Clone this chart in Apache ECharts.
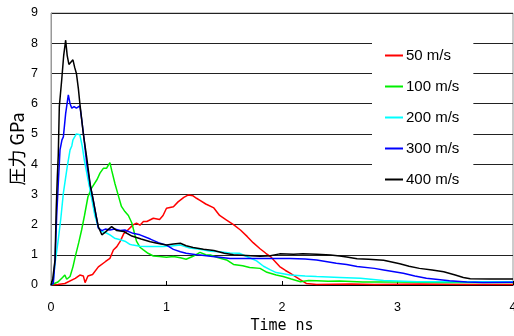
<!DOCTYPE html>
<html>
<head>
<meta charset="utf-8">
<script src="https://cdn.jsdelivr.net/npm/echarts@6/dist/echarts.min.js"></script>
<style>
  html, body { margin: 0; padding: 0; background: #fff; }
  #chart { width: 514px; height: 336px; }
</style>
</head>
<body>
<div id="chart"></div>
<script>
// 衝突速度ごとの圧力履歴 (Time ns, GPa)
const speeds = ["50 m/s", "100 m/s", "200 m/s", "300 m/s", "400 m/s"];
const colors = ["#ff0000", "#00ee00", "#00ffff", "#0000ff", "#000000"];

const p50 = [[0,0],[0.06,0.02],[0.12,0.05],[0.21,0.22],[0.25,0.33],[0.28,0.3],[0.295,0.08],[0.32,0.3],[0.36,0.35],[0.41,0.6],[0.47,0.77],[0.51,0.88],[0.54,1.16],[0.57,1.27],[0.6,1.45],[0.63,1.7],[0.655,1.78],[0.71,1.99],[0.74,2.05],[0.77,1.98],[0.8,2.1],[0.83,2.1],[0.886,2.21],[0.94,2.17],[0.97,2.3],[1.0,2.54],[1.06,2.59],[1.1,2.75],[1.15,2.9],[1.19,2.98],[1.23,2.95],[1.26,2.87],[1.29,2.8],[1.34,2.68],[1.41,2.55],[1.46,2.3],[1.52,2.15],[1.58,2.0],[1.64,1.82],[1.7,1.6],[1.75,1.4],[1.81,1.2],[1.86,1.05],[1.9,0.94],[1.94,0.78],[1.98,0.61],[2.03,0.48],[2.07,0.39],[2.12,0.27],[2.16,0.17],[2.21,0.05],[2.3,0.02],[2.6,0.03],[2.8,0.02],[3.2,0.03],[3.6,0.02],[4.0,0.02]];

const p100 = [[0,0],[0.06,0.1],[0.1,0.25],[0.12,0.33],[0.136,0.19],[0.165,0.28],[0.19,0.6],[0.21,0.94],[0.24,1.4],[0.265,1.82],[0.29,2.3],[0.32,2.92],[0.35,3.2],[0.366,3.26],[0.4,3.5],[0.424,3.7],[0.453,3.86],[0.48,3.86],[0.51,4.05],[0.525,3.8],[0.554,3.35],[0.58,3.0],[0.61,2.6],[0.64,2.43],[0.67,2.3],[0.7,2.05],[0.74,1.45],[0.77,1.25],[0.8,1.16],[0.84,1.05],[0.886,0.96],[0.94,0.94],[1.0,0.92],[1.06,0.94],[1.12,0.9],[1.17,0.85],[1.23,0.95],[1.29,1.08],[1.34,1.0],[1.38,0.99],[1.45,0.9],[1.52,0.83],[1.58,0.68],[1.66,0.64],[1.72,0.58],[1.81,0.55],[1.87,0.42],[1.95,0.33],[2.01,0.28],[2.08,0.2],[2.16,0.11],[2.23,0.15],[2.3,0.14],[2.4,0.12],[2.5,0.13],[2.7,0.1],[3.0,0.1],[3.4,0.08],[4.0,0.08]];

const p200 = [[0,0],[0.02,0.17],[0.035,0.72],[0.063,1.5],[0.085,2.2],[0.107,3.04],[0.14,3.9],[0.165,4.47],[0.18,4.6],[0.19,4.8],[0.22,5.0],[0.25,4.97],[0.27,4.6],[0.29,4.1],[0.32,3.5],[0.35,2.9],[0.38,2.3],[0.41,1.9],[0.44,1.77],[0.48,1.72],[0.51,1.66],[0.55,1.55],[0.6,1.5],[0.64,1.45],[0.68,1.35],[0.71,1.32],[0.77,1.28],[0.83,1.27],[0.9,1.27],[0.97,1.27],[1.04,1.29],[1.12,1.32],[1.2,1.22],[1.29,1.18],[1.38,1.12],[1.46,1.1],[1.55,1.06],[1.63,1.05],[1.72,0.9],[1.78,0.8],[1.84,0.62],[1.9,0.5],[1.95,0.41],[2.07,0.33],[2.2,0.3],[2.3,0.28],[2.5,0.25],[2.68,0.22],[2.88,0.15],[3.17,0.11],[3.5,0.11],[4.0,0.11]];

const p300 = [[0,0],[0.02,0.05],[0.035,0.83],[0.049,2.26],[0.065,3.5],[0.078,4.47],[0.095,4.8],[0.107,4.9],[0.127,5.68],[0.15,6.29],[0.165,6.0],[0.18,5.85],[0.2,5.9],[0.22,5.85],[0.25,5.93],[0.265,5.5],[0.28,5.03],[0.31,4.0],[0.34,3.3],[0.366,2.8],[0.39,2.3],[0.41,1.88],[0.44,1.8],[0.47,1.85],[0.51,1.82],[0.55,1.85],[0.6,1.8],[0.64,1.82],[0.71,1.71],[0.77,1.66],[0.86,1.52],[0.93,1.4],[1.0,1.32],[1.06,1.18],[1.12,1.1],[1.17,1.05],[1.26,1.0],[1.29,0.99],[1.38,0.95],[1.46,0.92],[1.55,0.88],[1.7,0.88],[1.81,0.88],[2.07,0.88],[2.2,0.86],[2.3,0.83],[2.47,0.72],[2.56,0.68],[2.65,0.61],[2.8,0.55],[2.88,0.5],[3.05,0.39],[3.15,0.3],[3.25,0.22],[3.45,0.14],[3.6,0.1],[3.74,0.08],[4.0,0.09]];

const p400 = [[0,0],[0.015,0.2],[0.035,0.83],[0.045,2.5],[0.055,3.6],[0.063,4.3],[0.072,5.9],[0.093,6.8],[0.11,7.6],[0.127,8.1],[0.14,7.6],[0.155,7.3],[0.17,7.35],[0.19,7.45],[0.205,7.2],[0.22,7.0],[0.237,6.5],[0.25,6.0],[0.28,5.0],[0.31,4.2],[0.34,3.3],[0.366,2.8],[0.39,2.3],[0.41,1.93],[0.44,1.66],[0.47,1.75],[0.5,1.85],[0.525,1.93],[0.57,1.8],[0.63,1.77],[0.7,1.62],[0.78,1.52],[0.86,1.43],[0.93,1.37],[1.0,1.32],[1.06,1.36],[1.12,1.38],[1.17,1.3],[1.23,1.24],[1.32,1.18],[1.41,1.14],[1.5,1.05],[1.58,1.0],[1.69,0.98],[1.81,0.95],[1.9,0.97],[1.98,1.03],[2.1,1.02],[2.18,1.03],[2.3,1.02],[2.42,0.99],[2.5,0.96],[2.56,0.93],[2.65,0.87],[2.75,0.85],[2.88,0.82],[2.95,0.76],[3.02,0.7],[3.1,0.62],[3.19,0.55],[3.3,0.5],[3.4,0.44],[3.5,0.33],[3.57,0.25],[3.63,0.21],[3.8,0.2],[4.0,0.2]];

const seriesData = [p50, p100, p200, p300, p400];
const xTicks = [0, 4, 1];   // min, max, interval
const yTicks = [0, 9, 1];

const chart = echarts.init(document.getElementById("chart"), null, { renderer: "canvas" });

let option = {
  animation: false,
  color: colors,
  grid: {
    left: 51,
    right: 1,
    top: 13,
    bottom: 51,
    outerBoundsMode: "none",
    containLabel: false,
    show: true,
    borderColor: "#999",
    borderWidth: 1,
  },
  legend: {
    data: speeds,
    orient: "vertical",
    left: 372,
    top: 35,
    padding: [13, 14, 6, 13],
    backgroundColor: "#fff",
    itemGap: 16,
    itemWidth: 18,
    itemHeight: 2,
    icon: "rect",
    textStyle: {
      fontFamily: "Liberation Sans",
      fontSize: 15,
      color: "#000",
      padding: [0, 0, 0, -2],
    },
  },
  xAxis: {
    type: "value",
    min: xTicks[0],
    max: xTicks[1],
    interval: xTicks[2],
    name: "Time ns",
    nameLocation: "middle",
    nameGap: 33,
    nameTextStyle: {
      fontFamily: "DejaVu Sans Mono",
      fontSize: 15,
      color: "#000",
    },
    axisLine: { show: true, lineStyle: { color: "#000", width: 1 } },
    axisTick: { show: true, inside: true, length: 4, lineStyle: { color: "#000" } },
    axisLabel: {
      fontFamily: "Liberation Sans",
      fontSize: 12.5,
      color: "#000",
      margin: 16,
    },
    splitLine: { show: false },
  },
  yAxis: {
    type: "value",
    min: yTicks[0],
    max: yTicks[1],
    interval: yTicks[2],
    name: "圧力 GPa",
    nameLocation: "middle",
    nameGap: 25,
    nameMoveOverlap: false,
    nameTextStyle: {
      fontFamily: "Noto Sans CJK JP",
      fontSize: 18,
      color: "#000",
    },
    axisLine: { show: true, lineStyle: { color: "#999", width: 1 } },
    axisTick: { show: false },
    axisLabel: {
      fontFamily: "Liberation Sans",
      fontSize: 12.5,
      color: "#000",
      margin: 13,
    },
    splitLine: {
      show: true,
      lineStyle: { color: "#222", width: 1 },
    },
  },
  series: speeds.map((name, i) => ({
    name: name,
    type: "line",
    data: seriesData[i],
    showSymbol: false,
    symbol: "none",
    lineStyle: { width: 1.5, color: colors[i] },
    z: 2 + i,
  })),
};

chart.setOption(option);
</script>
</body>
</html>
